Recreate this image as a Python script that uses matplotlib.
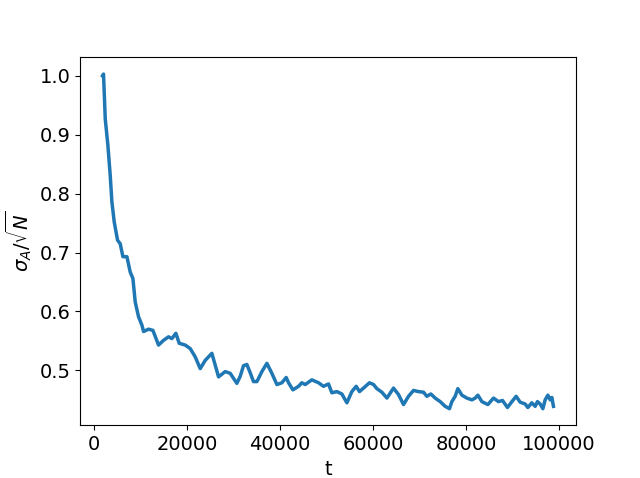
import numpy as np
import matplotlib
matplotlib.use("Agg")
import matplotlib.pyplot as plt

# Values
t = [1790, 2000, 2370, 2940, 3440, 3800, 4300, 5020, 5590, 6170, 7030, 7740,
     8320, 8820, 9530, 10250, 10610, 11680, 12620, 13830, 14900, 15980, 16700,
     17560, 18280, 19570, 20650, 21720, 22800, 23870, 25300, 26740, 28170,
     29250, 30680, 31400, 32110, 32830, 33550, 34260, 34990, 36060, 37140,
     38210, 39290, 40360, 41290, 41790, 42730, 43940, 44660, 45380, 46810,
     48240, 49310, 50390, 51110, 52190, 53260, 54340, 55410, 56340, 57050,
     58060, 59200, 60070, 60790, 61870, 62950, 64370, 65440, 66520, 67590,
     68670, 69740, 70820, 71540, 72400, 73330, 74410, 75480, 76410, 76920,
     77630, 78210, 79070, 80140, 81220, 81940, 82510, 83380, 84660, 85880,
     86950, 87810, 88880, 89830, 90750, 91610, 92690, 93260, 94120, 94840,
     95330, 95910, 96490, 96990, 97570, 98060, 98430, 98770]
sigma = [1.000, 1.003, 0.927, 0.882, 0.831, 0.786, 0.752, 0.721, 0.715, 0.693,
         0.693, 0.667, 0.656, 0.616, 0.591, 0.577, 0.566, 0.570, 0.568, 0.543,
         0.551, 0.557, 0.554, 0.563, 0.546, 0.543, 0.537, 0.523, 0.503, 0.517,
         0.529, 0.489, 0.498, 0.495, 0.478, 0.490, 0.508, 0.510, 0.496, 0.481,
         0.481, 0.498, 0.512, 0.495, 0.476, 0.479, 0.488, 0.479, 0.467, 0.473,
         0.479, 0.476, 0.484, 0.479, 0.473, 0.477, 0.462, 0.464, 0.460, 0.445,
         0.464, 0.473, 0.464, 0.471, 0.479, 0.476, 0.469, 0.463, 0.453, 0.470,
         0.459, 0.442, 0.456, 0.466, 0.464, 0.463, 0.456, 0.460, 0.453, 0.447,
         0.439, 0.435, 0.447, 0.456, 0.469, 0.458, 0.453, 0.450, 0.453, 0.458,
         0.447, 0.442, 0.453, 0.447, 0.449, 0.437, 0.447, 0.456, 0.446, 0.443,
         0.437, 0.445, 0.439, 0.447, 0.443, 0.435, 0.450, 0.458, 0.450, 0.454,
         0.439]

fig, ax = plt.subplots(figsize=(6.4, 4.78), dpi=100)
ax.plot(t, sigma, color='#1f77b4', linewidth=2.5)

ax.set_xlabel('t', fontsize=14)
ax.set_ylabel(r'$\sigma_A/\sqrt{N}$', fontsize=14)
ax.tick_params(labelsize=14)

plt.savefig('out.png')
plt.close()
